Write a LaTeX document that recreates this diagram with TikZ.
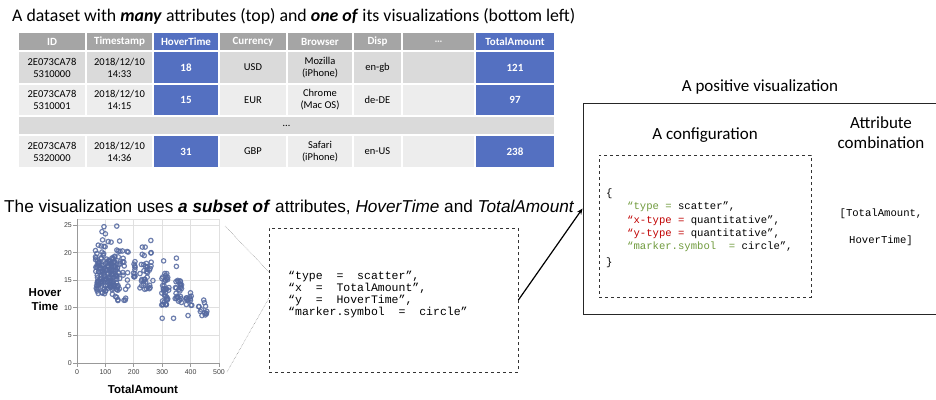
\documentclass[tikz,border=0pt]{standalone}
\usepackage{fontspec}
\setmainfont{Carlito}
\newfontfamily\arialf{Liberation Sans}
\newfontfamily\courf{Liberation Mono}
\usetikzlibrary{arrows.meta}
\definecolor{hdrgrey}{HTML}{A5A5A5}
\definecolor{rowA}{HTML}{DADADA}
\definecolor{rowB}{HTML}{EDEDED}
\definecolor{tblue}{HTML}{5470C1}
\definecolor{ptblue}{RGB}{85,105,160}
\definecolor{cgreen}{HTML}{6F9A3C}
\definecolor{cred}{HTML}{C00000}
\definecolor{gridg}{HTML}{E0E0E0}
\newcommand{\tcell}[7]{\node[cellbox, minimum width={#3-#2}, minimum height={#5-#4}, #6] (#1) at ({(#2+#3)/2},{(#4+#5)/2}) {#7};}
\begin{document}
\begin{tikzpicture}[x=1pt,y=-1pt,
  cellbox/.style={draw=white, line width=1.5pt, inner sep=0pt, text=black, align=center, font=\fontsize{10.5}{12}\selectfont},
  hdr/.style={fill=hdrgrey, text=white, font=\fontsize{11}{12}\selectfont\bfseries},
  bluev/.style={fill=tblue, text=white, font=\fontsize{11}{12}\selectfont\bfseries},
  title/.style={inner sep=0pt, font=\fontsize{17.8}{20}\selectfont},
  boxtitle/.style={inner sep=0pt, font=\fontsize{17}{20}\selectfont},
  gridline/.style={draw=gridg, line width=0.7pt},
  axisline/.style={draw=gray!80, line width=0.7pt},
  ticklab/.style={inner sep=0pt, font=\arialf\fontsize{7}{8}\selectfont, text=black!75},
  axlab/.style={inner sep=0pt, font=\arialf\fontsize{11.5}{14}\selectfont\bfseries, align=center},
  dot/.style={draw=ptblue, line width=1.2pt, draw opacity=0.85},
  dashbox/.style={draw=black!80, dashed, line width=0.8pt, inner sep=0pt},
  zoomline/.style={draw=gray, densely dotted, line width=0.5pt},
  lcode/.style={inner sep=0pt, font=\courf\fontsize{11.5}{12}\selectfont},
  rcode/.style={inner sep=0pt, font=\courf\fontsize{10.6}{12}\selectfont},
  conn/.style={draw=black, line width=1.2pt, -{Stealth[length=6pt,width=5pt]}}
]
\useasboundingbox (0,0) rectangle (936,399);

% ---------- titles ----------
\node[title, anchor=base west] (t1) at (12,21) {A dataset with \textbf{\textit{many}} attributes (top) and \textbf{\textit{one of}} its visualizations (bottom left)};
\node[inner sep=0pt, anchor=base west, font=\arialf\fontsize{17.2}{19}\selectfont] (t2) at (4,212) {The visualization uses \textbf{\textit{a subset of}} attributes, \textit{HoverTime} and \textit{TotalAmount}};

% ---------- table ----------
\tcell{hID}{18}{86}{32}{51}{hdr}{ID}
\tcell{hTS}{86}{153}{32}{51}{hdr}{Timestamp}
\tcell{hHT}{153}{219}{32}{51}{bluev}{HoverTime}
\tcell{hCur}{219}{287}{32}{51}{hdr}{Currency}
\tcell{hBr}{287}{353}{32}{51}{hdr}{Browser}
\tcell{hDisp}{353}{402}{32}{51}{hdr}{Disp}
\tcell{hDots}{402}{475}{32}{51}{hdr, text=white!80!hdrgrey}{…}
\tcell{hTA}{475}{555}{32}{51}{bluev}{TotalAmount}

\tcell{aID}{18}{86}{51}{84}{fill=rowA}{2E073CA78\\5310000}
\tcell{aTS}{86}{153}{51}{84}{fill=rowA}{2018/12/10\\14:33}
\tcell{aHT}{153}{219}{51}{84}{bluev}{18}
\tcell{aCur}{219}{287}{51}{84}{fill=rowA}{USD}
\tcell{aBr}{287}{353}{51}{84}{fill=rowA}{Mozilla\\(iPhone)}
\tcell{aDisp}{353}{402}{51}{84}{fill=rowA}{en-gb}
\tcell{aDots}{402}{475}{51}{84}{fill=rowA}{}
\tcell{aTA}{475}{555}{51}{84}{bluev}{121}

\tcell{bID}{18}{86}{84}{116}{fill=rowB}{2E073CA78\\5310001}
\tcell{bTS}{86}{153}{84}{116}{fill=rowB}{2018/12/10\\14:15}
\tcell{bHT}{153}{219}{84}{116}{bluev}{15}
\tcell{bCur}{219}{287}{84}{116}{fill=rowB}{EUR}
\tcell{bBr}{287}{353}{84}{116}{fill=rowB}{Chrome\\(Mac OS)}
\tcell{bDisp}{353}{402}{84}{116}{fill=rowB}{de-DE}
\tcell{bDots}{402}{475}{84}{116}{fill=rowB}{}
\tcell{bTA}{475}{555}{84}{116}{bluev}{97}

\tcell{gap}{18}{555}{116}{135}{fill=rowA}{…}

\tcell{cID}{18}{86}{135}{168}{fill=rowB}{2E073CA78\\5320000}
\tcell{cTS}{86}{153}{135}{168}{fill=rowB}{2018/12/10\\14:36}
\tcell{cHT}{153}{219}{135}{168}{bluev}{31}
\tcell{cCur}{219}{287}{135}{168}{fill=rowB}{GBP}
\tcell{cBr}{287}{353}{135}{168}{fill=rowB}{Safari\\(iPhone)}
\tcell{cDisp}{353}{402}{135}{168}{fill=rowB}{en-US}
\tcell{cDots}{402}{475}{135}{168}{fill=rowB}{}
\tcell{cTA}{475}{555}{135}{168}{bluev}{238}

% ---------- scatter plot ----------
\foreach \v in {100,200,300,400}
  \draw[gridline] ({77+0.284*\v},363) -- ({77+0.284*\v},219);
\foreach \v in {5,10,15,20,25}
  \draw[gridline] (77,{363-5.52*\v}) -- (219,{363-5.52*\v});
\draw[gridline] (77,219) -- (219,219) -- (219,363);
\draw[axisline] (77,219) -- (77,363) -- (219,363);
\foreach \v in {0,5,10,15,20,25}{
  \draw[axisline] (73,{363-5.52*\v}) -- (77,{363-5.52*\v});
  \node[ticklab, anchor=east] (yt\v) at (72,{363-5.52*\v}) {\v};
}
\foreach \v in {0,100,200,300,400,500}{
  \draw[axisline] ({77+0.284*\v},363) -- ({77+0.284*\v},367);
  \node[ticklab, anchor=north] (xt\v) at ({77+0.284*\v},369) {\v};
}
\node[axlab] (ylab) at (45,300) {Hover\\Time};
\node[axlab] (xlab) at (143,389) {TotalAmount};

\pgfmathsetseed{11}
\foreach \xa/\xb/\ya/\yb/\n in {65/100/13/20.5/55, 65/100/12.5/21.5/15, 100/140/13/19.5/70, 100/140/12/21/15, 140/180/11.3/20.5/35, 195/205/15/18.4/10, 220/268/13.3/20/35, 298/325/10.5/16.3/38, 345/370/10.9/15/26, 380/405/9.3/14.1/13, 428/460/8.7/11.6/11}{
  \foreach \k in {1,...,\n}{
    \pgfmathsetmacro\px{77+0.284*(\xa+(\xb-\xa)*rnd)}
    \pgfmathsetmacro\py{363-5.52*(\ya+(\yb-\ya)*rnd)}
    \draw[dot] (\px,\py) circle[radius=2.2pt];
  }
}
\foreach \xv/\yv in {95/24.7, 88/23.8, 100/23.4, 140/24.8, 110/22, 90/22.3, 160/20.3, 180/20.1, 120/21.9, 150/22.1, 85/21.2, 260/22.2, 240/21, 230/21, 305/18.5, 300/8.1, 340/8.1, 350/19, 350/17.5, 391/8.6, 440/8.6, 455/9, 170/11.4, 75/12.6}
  \draw[dot] ({77+0.284*\xv},{363-5.52*\yv}) circle[radius=2.2pt];

% ---------- left code box ----------
\node[dashbox, minimum width=249, minimum height=144] (lbox) at (393.5,300) {};
\node[lcode, anchor=base west] (l1) at (288,279.5) {“type~~=~~scatter”,};
\node[lcode, anchor=base west] (l2) at (288,291.3) {“x~~=~~TotalAmount”,};
\node[lcode, anchor=base west] (l3) at (288,303) {“y~~=~~HoverTime”,};
\node[lcode, anchor=base west] (l4) at (288,315) {“marker.symbol~~=~~circle”};

\coordinate (pcTop) at (225,226);
\coordinate (pcBot) at (227,372);
\coordinate (lbA) at (269,272);
\coordinate (lbB) at (269,298);
\draw[zoomline] (pcTop) -- (lbA);
\draw[zoomline] (pcBot) -- (lbB);

% ---------- positive visualization box ----------
\node[draw=black!85, line width=1pt, minimum width=357, minimum height=211, inner sep=0pt] (bigbox) at (761.5,208.5) {};
\node[boxtitle, anchor=base] (ptitle) at (760,91) {A positive visualization};
\node[boxtitle, anchor=base] (ctitle) at (705,139) {A configuration};
\node[boxtitle, anchor=base] (atitle1) at (881,128) {Attribute};
\node[boxtitle, anchor=base] (atitle2) at (881,148) {combination};

\node[dashbox, minimum width=212, minimum height=142] (rbox) at (705,226) {};
\node[rcode, anchor=base west] (r0) at (606,196.5) {\{};
\node[rcode, anchor=base west] (r1) at (627,209.5) {\textcolor{cgreen}{“type =} scatter”,};
\node[rcode, anchor=base west] (r2) at (627,223) {\textcolor{cred}{“x-type =} quantitative”,};
\node[rcode, anchor=base west] (r3) at (627,236.5) {\textcolor{cred}{“y-type =} quantitative”,};
\node[rcode, anchor=base west] (r4) at (627,249.5) {\textcolor{cgreen}{“marker.symbol~~=} circle”,};
\node[rcode, anchor=base west] (r5) at (606,265) {\}};

\node[rcode, anchor=base] (ac1) at (881,216.5) {[TotalAmount,};
\node[rcode, anchor=base] (ac2) at (881,243.5) {HoverTime]};

\draw[conn] (lbox.east) -- (bigbox.west);
\end{tikzpicture}
\end{document}
